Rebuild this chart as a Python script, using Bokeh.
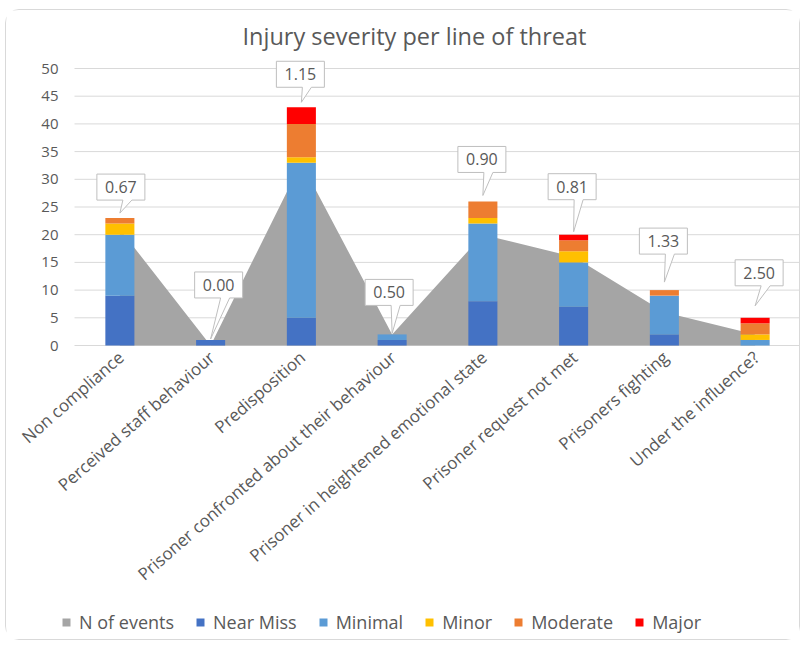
from bokeh.plotting import figure
from bokeh.models import Range1d, Legend, LegendItem, ColumnDataSource
from bokeh.embed import file_html
from bokeh.resources import INLINE
from bokeh.core.properties import value

# ---------------- data ----------------
categories = ["Non compliance", "Perceived staff behaviour", "Predisposition",
              "Prisoner confronted about their behaviour",
              "Prisoner in heightened emotional state",
              "Prisoner request not met", "Prisoners fighting", "Under the influence?"]
n_events = [21, 0, 33, 2, 20, 16, 6, 2]
near_miss = [9, 1, 5, 1, 8, 7, 2, 0]
minimal = [11, 0, 28, 1, 14, 8, 7, 1]
minor = [2, 0, 1, 0, 1, 2, 0, 1]
moderate = [1, 0, 6, 0, 3, 2, 1, 2]
major = [0, 0, 3, 0, 0, 1, 0, 1]
ratio_labels = ["0.67", "0.00", "1.15", "0.50", "0.90", "0.81", "1.33", "2.50"]
y_ticks = [0, 5, 10, 15, 20, 25, 30, 35, 40, 45, 50]
y_max = 50
series_names = ["Near Miss", "Minimal", "Minor", "Moderate", "Major"]
title_text = "Injury severity per line of threat"

# ---------------- styles / layout ----------------
FONT = "Open Sans"
TXT = "#595959"
GRID = "#d9d9d9"
colors = ["#4472C4", "#5B9BD5", "#FFC000", "#ED7D31", "#FF0000"]
area_color = "#A5A5A5"

W, H = 795, 631                 # canvas (inside 1px border)
plot_left, plot_right = 68, 794  # plotting area in canvas px
plot_top, plot_bottom = 58, 335
n = len(categories)
px_x = (plot_right - plot_left) / n
px_y = (plot_bottom - plot_top) / y_max
x_start = -plot_left / px_x
x_end = x_start + W / px_x
y_end = plot_bottom / px_y
y_start = y_end - H / px_y

# callout placement (pixels): box gap above bar top, tip gap, horizontal shift
callout_box_gap = [18, 42, 20, 29, 29, 35, 36, 32]
callout_tip_gap = [5, 1, 5, 1, 6, 3, 8, 12]
callout_dx = [1, 8, -1, -3, -1, -1.5, -1, 4]
box_w, box_h = 48, 26

p = figure(width=W, height=H, x_range=Range1d(x_start, x_end), y_range=Range1d(y_start, y_end),
           output_backend="svg", toolbar_location=None,
           min_border_left=0, min_border_right=0, min_border_top=0, min_border_bottom=0)
p.styles = {"border": "1px solid #d9d9d9", "border-radius": "14px",
            "margin-left": "5px", "margin-top": "9px"}
p.xaxis.visible = False
p.yaxis.visible = False
p.xgrid.visible = False
p.ygrid.visible = False
p.outline_line_color = None

xpos = [i + 0.5 for i in range(n)]
src = ColumnDataSource(dict(x=xpos, cat=categories, n=n_events, nm=near_miss, mi=minimal,
                            mn=minor, mo=moderate, ma=major))

# gridlines + value labels
p.segment(x0=0, x1=n, y0=y_ticks, y1=y_ticks, line_color=GRID, line_width=1)
p.text(x=[0] * len(y_ticks), y=y_ticks, text=[str(t) for t in y_ticks], x_offset=-16,
       text_align="right", text_baseline="middle",
       text_font=value(FONT), text_font_size="15px", text_color=TXT)

area = p.varea(x="x", y1=0, y2="n", source=src, fill_color=area_color)
bars = p.vbar_stack(["nm", "mi", "mn", "mo", "ma"], x="x", width=0.32,
                    color=colors, line_color=None, source=src)

# category labels (rotated)
p.text(x="x", y=0, text="cat", source=src, angle=0.72, text_align="right",
       text_baseline="middle", x_offset=1, y_offset=9,
       text_font=value(FONT), text_font_size="17px", text_color=TXT)

# title
p.text(x=[x_start + 408 / px_x], y=[y_end - 25 / px_y], text=[title_text],
       text_align="center", text_baseline="middle",
       text_font=value(FONT), text_font_size="23.5px", text_color=TXT)

# callouts
totals = [a + b + c + d + e for a, b, c, d, e in zip(near_miss, minimal, minor, moderate, major)]
xs, ys, tx, ty = [], [], [], []
for i, t in enumerate(totals):
    cx = xpos[i]
    bx = cx + callout_dx[i] / px_x
    top_px = t * px_y
    B = (top_px + callout_box_gap[i]) / px_y
    T = (top_px + callout_box_gap[i] + box_h) / px_y
    L = bx - (box_w / 2) / px_x
    R = bx + (box_w / 2) / px_x
    b1 = bx + 2 / px_x
    b2 = bx + 11 / px_x
    tip = (top_px + callout_tip_gap[i]) / px_y
    xs.append([L, b1, cx, b2, R, R, L])
    ys.append([B, B, tip, B, B, T, T])
    tx.append(bx)
    ty.append((B + T) / 2)
p.patches(xs, ys, fill_color="white", line_color="#bfbfbf", line_width=1)
p.text(tx, ty, text=ratio_labels, text_align="center", text_baseline="middle",
       text_font=value(FONT), text_font_size="16px", text_color=TXT)

items = [LegendItem(label="N of events", renderers=[area])]
for name, r in zip(series_names, bars):
    items.append(LegendItem(label=name, renderers=[r]))
legend = Legend(items=items, orientation="horizontal", location=(55, 7),
                border_line_color=None, background_fill_alpha=0,
                label_text_font=FONT, label_text_font_size="18px", label_text_color=TXT,
                glyph_width=10, glyph_height=10, spacing=21, label_standoff=8,
                padding=2, margin=0)
p.add_layout(legend)

open("out.html", "w").write(file_html(p, INLINE))
